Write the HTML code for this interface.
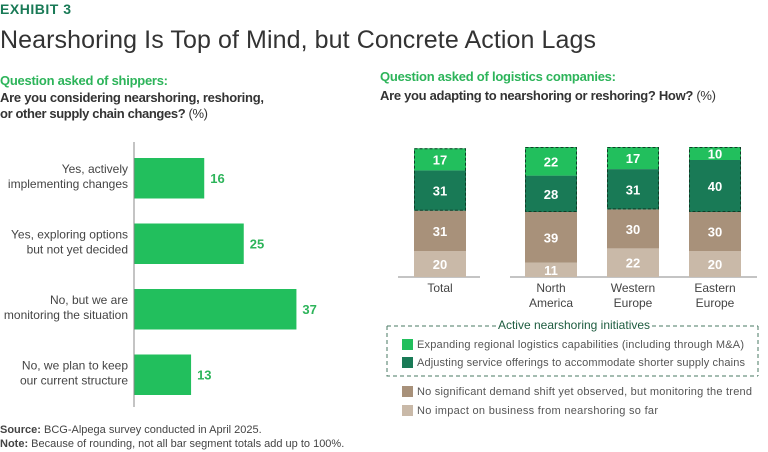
<!DOCTYPE html>
<html><head><meta charset="utf-8"><style>
body{margin:0;background:#fff}
svg{display:block;font-family:"Liberation Sans",sans-serif}
</style></head><body>
<svg id="s" width="768" height="452" viewBox="0 0 768 452">
<text x="0" y="14" font-size="14" font-weight="bold" fill="#197A56" textLength="71">EXHIBIT 3</text>
<text x="0" y="48" font-size="25" fill="#333" textLength="596">Nearshoring Is Top of Mind, but Concrete Action Lags</text>
<text x="0" y="85" font-size="13" font-weight="bold" fill="#2DB45A" textLength="168">Question asked of shippers:</text>
<text x="0" y="102" font-size="13" font-weight="bold" fill="#333" textLength="264">Are you considering nearshoring, reshoring,</text>
<text x="0" y="118" font-size="13" fill="#333" textLength="208"><tspan font-weight="bold">or other supply chain changes?</tspan> (%)</text>
<text x="380" y="81" font-size="13" font-weight="bold" fill="#2DB45A" textLength="236">Question asked of logistics companies:</text>
<text x="380" y="100" font-size="13" fill="#333" textLength="336"><tspan font-weight="bold">Are you adapting to nearshoring or reshoring? How?</tspan> (%)</text>
<line x1="134" y1="142" x2="134" y2="407" stroke="#888" stroke-width="1"/>
<g id="left"></g>
<line x1="398" y1="277" x2="480" y2="277" stroke="#888"/>
<line x1="510" y1="277" x2="757" y2="277" stroke="#888"/>
<g id="right"></g>
<g>
<path d="M387 326 L387 376 L758 376 M758 326 L758 376 M387 326 L496 326 M652 326 L758 326" fill="none" stroke="#4a7a63" stroke-dasharray="4,3"/>
<text x="574" y="329" font-size="12" fill="#1d5c3f" text-anchor="middle">Active nearshoring initiatives</text>
<rect x="402" y="339" width="11" height="11" fill="#22BF5D"/>
<text x="417" y="348" font-size="11" fill="#555" textLength="327">Expanding regional logistics capabilities (including through M&amp;A)</text>
<rect x="402" y="357" width="11" height="11" fill="#197A56"/>
<text x="417" y="366" font-size="11" fill="#555" textLength="328">Adjusting service offerings to accommodate shorter supply chains</text>
<rect x="402" y="386" width="11" height="11" fill="#A8917A"/>
<text x="417" y="395" font-size="11" fill="#555" textLength="335">No significant demand shift yet observed, but monitoring the trend</text>
<rect x="402" y="405" width="11" height="11" fill="#C9B9A8"/>
<text x="417" y="414" font-size="11" fill="#555" textLength="241">No impact on business from nearshoring so far</text>
</g>
<text x="0" y="433" font-size="11" fill="#444"><tspan font-weight="bold">Source:</tspan> BCG-Alpega survey conducted in April 2025.</text>
<text x="0" y="447" font-size="11" fill="#444"><tspan font-weight="bold">Note:</tspan> Because of rounding, not all bar segment totals add up to 100%.</text>
</svg>
<script>
const leftLabels1 = ["Yes, actively","Yes, exploring options","No, but we are","No, we plan to keep"];
const leftLabels2 = ["implementing changes","but not yet decided","monitoring the situation","our current structure"];
const leftValues = [16,25,37,13];
const cats1 = ["Total","North","Western","Eastern"];
const cats2 = ["","America","Europe","Europe"];
const noImpact = [20,11,22,20];
const monitoring = [31,39,30,30];
const adjusting = [31,28,31,40];
const expanding = [17,22,17,10];

const NS="http://www.w3.org/2000/svg";
function mk(tag,attrs,parent,txt){const e=document.createElementNS(NS,tag);for(const k in attrs)e.setAttribute(k,attrs[k]);if(txt!==undefined)e.textContent=txt;parent.appendChild(e);return e;}
const L=document.getElementById('left');
const xL=v=>134+v*4.39;
const yBand=i=>158+i*65.5;
leftValues.forEach((v,i)=>{
  const y=yBand(i);
  const r=mk('rect',{x:134.5,y:y,width:xL(v)-134.5,height:40.5,fill:'#22BF5D'},L);
  
  
  const t=mk('text',{x:xL(v)+6,y:y+25,'font-size':13,'font-weight':'bold',fill:'#2DB45A'},L,String(v));
  
  
  const a=mk('text',{x:128,y:y+15,'font-size':12,fill:'#444','text-anchor':'end'},L,leftLabels1[i]);
  
  
  const b=mk('text',{x:128,y:y+30,'font-size':12,fill:'#444','text-anchor':'end'},L,leftLabels2[i]);
  
  
});
const R=document.getElementById('right');
const xR=[414,525,607,689];
const bw=52;
const yS=v=>v*1.3;
const base=277;
cats1.forEach((c,i)=>{
  const series=[[noImpact,'#C9B9A8'],[monitoring,'#A8917A'],[adjusting,'#197A56'],[expanding,'#22BF5D']];
  let y=base;
  let greenBottom=0;
  series.forEach(([arr,col],k)=>{
    const h=yS(arr[i]);
    y-=h;
    if(k===2)greenBottom=y+h;
    const r=mk('rect',{x:xR[i],y:y,width:bw,height:h,fill:col},R);
    
    
    const t=mk('text',{x:xR[i]+bw/2,y:y+h/2+5,'font-size':13,'font-weight':'bold',fill:'#fff','text-anchor':'middle'},R,String(arr[i]));
    
    
  });
  const d=mk('rect',{x:xR[i]+0.5,y:y+0.5,width:bw-1,height:greenBottom-y-1,fill:'none',stroke:'#0f3d28','stroke-dasharray':'3,2','stroke-width':1},R);
  
  
  const l1=mk('text',{x:xR[i]+bw/2,y:292,'font-size':12,fill:'#444','text-anchor':'middle'},R,c);
  
  
  if(cats2[i]){const l2=mk('text',{x:xR[i]+bw/2,y:307,'font-size':12,fill:'#444','text-anchor':'middle'},R,cats2[i]);
  
  }
});
</script>
</body></html>
